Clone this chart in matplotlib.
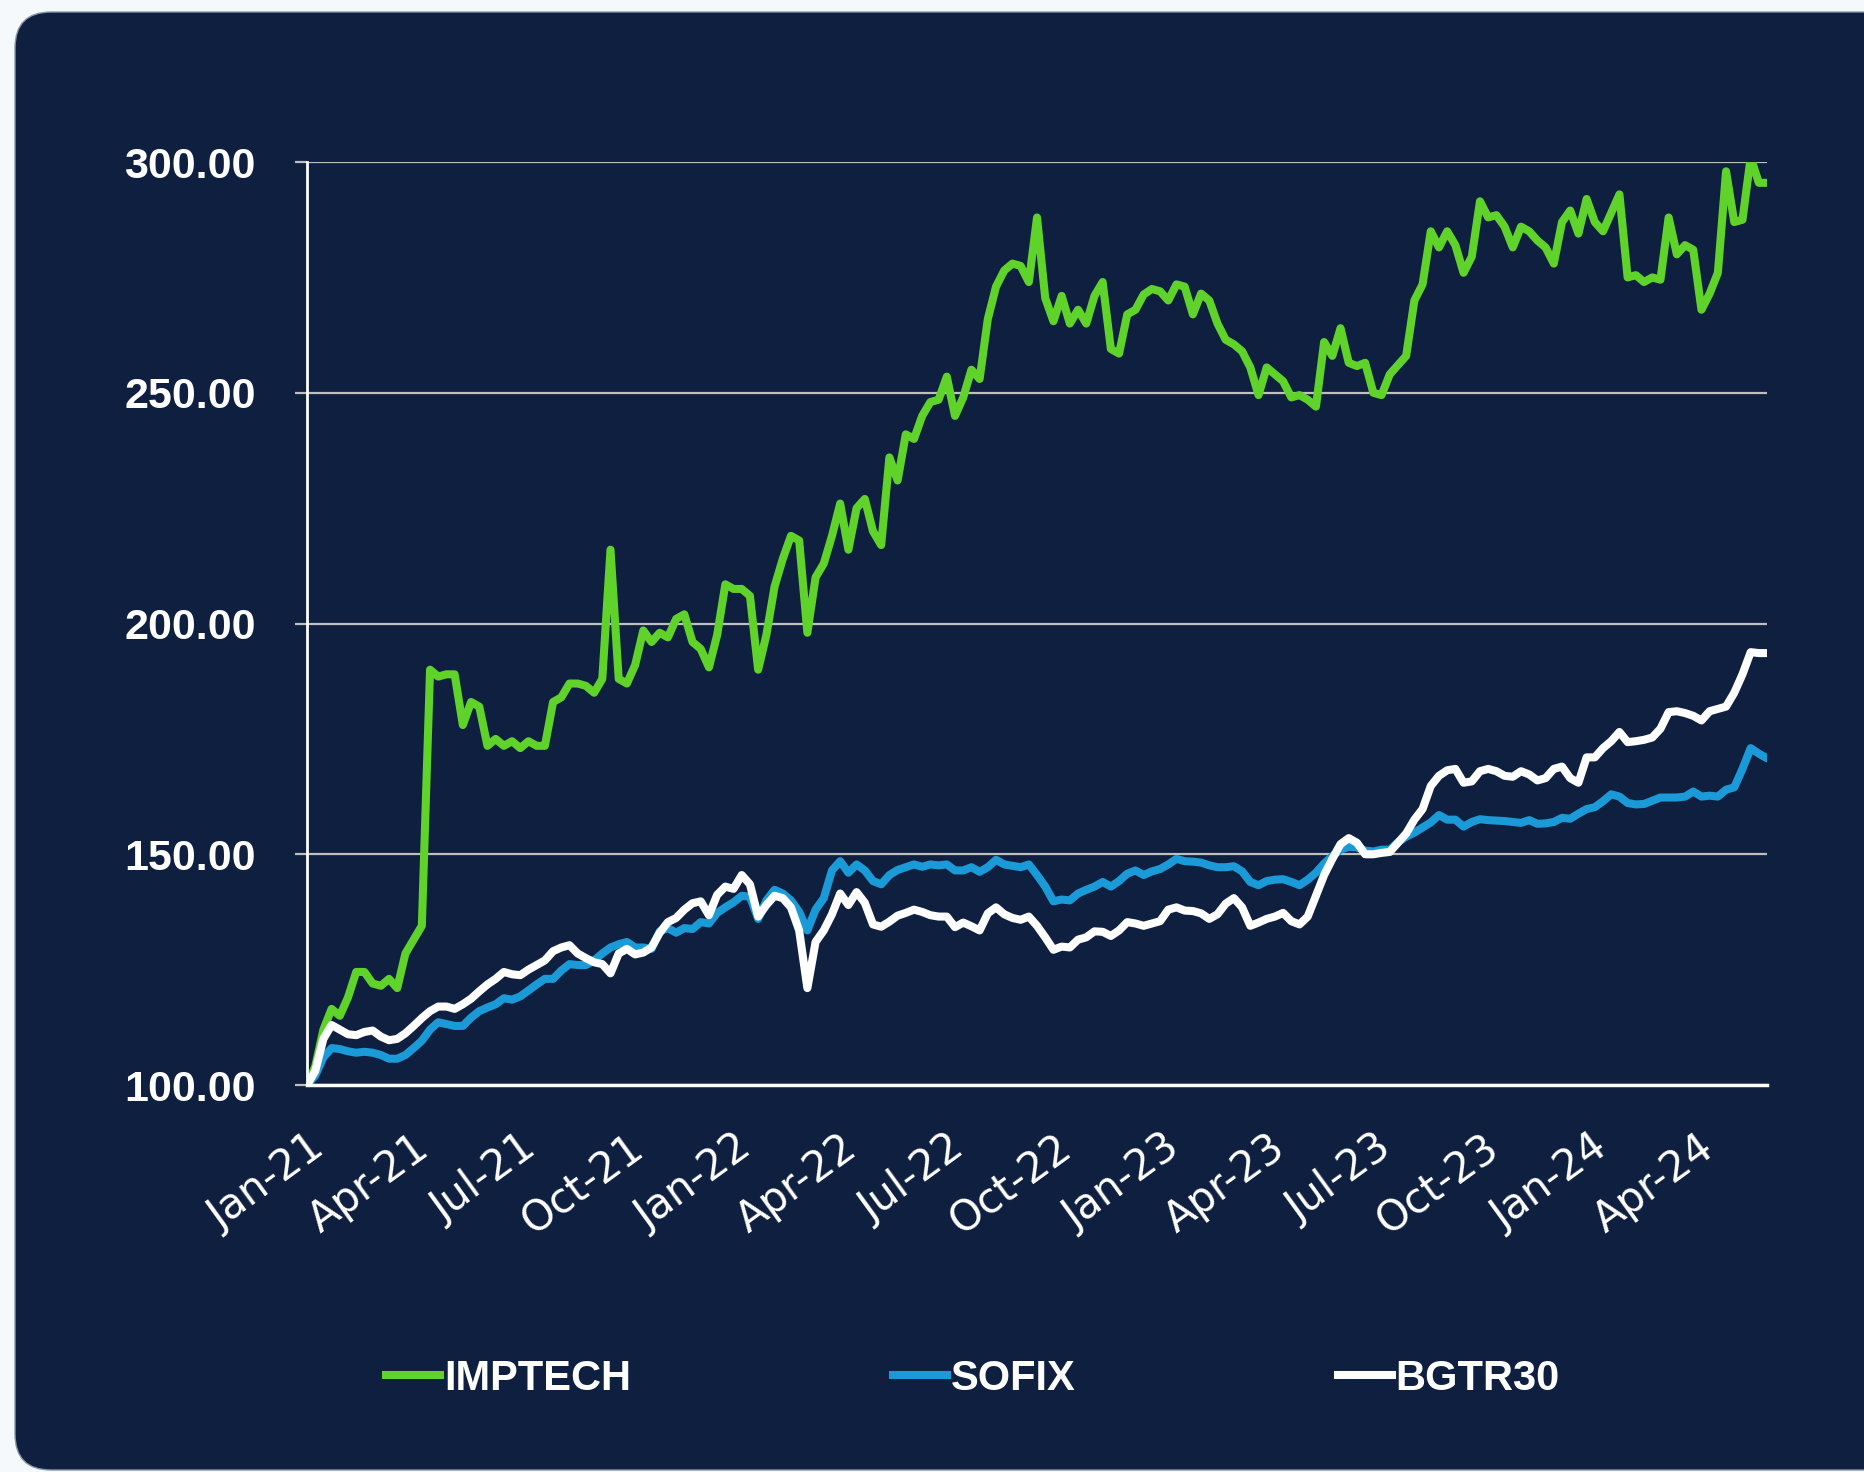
import matplotlib
matplotlib.use("Agg")
import matplotlib.pyplot as plt
import matplotlib.dates as mdates
from matplotlib.patches import FancyBboxPatch
from matplotlib.lines import Line2D
from matplotlib.transforms import IdentityTransform
import pandas as pd

series_names = ["IMPTECH", "SOFIX", "BGTR30"]
series_colors = ["#5fd32a", "#1a9bd7", "#ffffff"]

# weekly levels, all rebased to 100 at the start of 2021
dates = pd.date_range("2021-01-01", periods=179, freq="7D")

imptech = [
    100, 104, 112, 116.5, 115, 119, 124.5, 124.5, 122, 121.5,
    123, 121, 128.5, 131.5, 134.5, 190, 188.5, 189, 189, 178,
    183, 182, 173.5, 175, 173.5, 174.5, 173, 174.5, 173.5, 173.5,
    183, 184, 187, 187, 186.5, 185, 188, 216, 188, 187,
    191, 198.5, 196, 198, 197, 201, 202, 196, 194.5, 190.5,
    197.5, 208.5, 207.5, 207.5, 206, 190, 197.5, 208, 214,
    219, 218, 198, 210, 213, 219, 226, 216, 225, 227,
    220, 217, 236, 231, 241, 240, 245, 248, 248.5, 253.5,
    245, 249, 255, 253, 266, 273, 276.5, 278, 277.5,
    274, 288, 270.5, 265.5, 271, 265, 268, 265, 271, 274,
    259.5, 258.5, 267, 268, 271.3, 272.5, 272, 270, 273.5, 273,
    267, 271.5, 270, 265, 261.5, 260.5, 259, 255.5, 249.5,
    255.5, 254, 252.5, 249, 249.5, 248.5, 247, 261, 258, 264,
    256.5, 255.8, 256.5, 250, 249.5, 254, 256, 258, 270, 273.5,
    285, 281.5, 285, 282, 276, 279.5, 291.5, 288, 288.5,
    286, 281.5, 286, 285, 283, 281.5, 278, 287, 289.5, 284.5,
    292, 287, 285, 289, 293, 275, 275.5, 274, 275, 274.5,
    288, 280, 282, 281, 268, 271.5, 276, 298, 287, 287.5,
    301, 295.5, 295.5,
]

sofix = [
    100, 102, 106, 108, 107.8, 107.3, 107, 107.2, 107, 106.5,
    105.7, 105.7, 106.5, 108, 109.6, 112, 113.6, 113.2, 112.8, 112.8,
    114.6, 116, 116.8, 117.5, 118.8, 118.5, 119.2, 120.5, 121.8, 123,
    123, 124.8, 126.2, 126, 126, 127, 128.5, 129.8, 130.5, 131,
    129.8, 129.8, 129.5, 133.3, 134, 133, 134, 133.8, 135.3, 135,
    137.3, 138.5, 139.6, 141, 140.8, 136, 140, 142.3, 141.5,
    140, 137.5, 133.5, 138, 140.5, 146.5, 148.5, 146, 147.8, 146.5,
    144.2, 143.5, 145.5, 146.6, 147.2, 147.8, 147.3, 147.8, 147.6, 147.8,
    146.5, 146.5, 147.2, 146.2, 147.2, 148.8, 147.8, 147.5, 147.2,
    147.8, 145.5, 143, 139.8, 140.2, 140, 141.5, 142.3, 143, 144,
    143, 144.2, 145.8, 146.5, 145.5, 146.3, 146.8, 147.8, 149, 148.5,
    148.4, 148.2, 147.6, 147.2, 147.2, 147.4, 146.3, 144, 143.3,
    144.2, 144.5, 144.6, 144, 143.3, 144.5, 146, 148, 149.6, 151,
    151.6, 151.5, 150.8, 150.6, 151, 151, 152.6, 153.8, 154.7, 155.8,
    156.9, 158.5, 157.5, 157.5, 156, 157, 157.6, 157.4, 157.3,
    157.2, 157, 156.8, 157.4, 156.6, 156.7, 157, 157.9, 157.7, 158.8,
    159.8, 160.2, 161.5, 163, 162.5, 161.1, 160.8, 160.9, 161.6, 162.3,
    162.3, 162.3, 162.5, 163.6, 162.5, 162.7, 162.5, 164, 164.5, 168.5,
    173, 171.8, 170.8,
]

bgtr30 = [
    100, 103, 110, 113, 112, 111, 110.8, 111.5, 111.8, 110.5,
    109.7, 110, 111.2, 112.8, 114.5, 116, 117, 117, 116.5, 117.5,
    118.7, 120.3, 121.8, 123, 124.5, 124, 123.8, 125, 126, 127,
    129, 129.8, 130.3, 128.5, 127.5, 126.6, 126.2, 124.2, 128.5, 129.5,
    128.3, 128.7, 129.8, 133, 135.3, 136.2, 138, 139.4, 139.8, 136.8,
    141.2, 143, 142.5, 145.5, 143.5, 136.5, 139, 141, 140.5,
    138.5, 133.5, 121, 131, 133.5, 137, 141.5, 139, 141.8, 139.5,
    134.8, 134.3, 135.4, 136.7, 137.3, 138, 137.5, 136.8, 136.5, 136.5,
    134.2, 135.2, 134.4, 133.5, 137.2, 138.5, 137, 136.2, 135.8,
    136.5, 134.5, 132, 129.3, 130, 129.8, 131.5, 132, 133.3, 133.2,
    132.3, 133.5, 135.3, 135, 134.5, 135, 135.5, 138, 138.5, 137.8,
    137.7, 137.2, 136, 137, 139.3, 140.5, 138.5, 134.5, 135.2,
    136, 136.5, 137.3, 135.5, 134.8, 136.5, 141, 145.5, 149, 152.2,
    153.5, 152.5, 150, 150, 150.3, 150.5, 152.5, 154.5, 157.5, 159.8,
    164.8, 167, 168.2, 168.5, 165.5, 165.8, 168, 168.5, 168,
    167, 166.8, 168, 167.3, 166, 166.5, 168.5, 169, 166.5, 165.5,
    171, 171, 173, 174.5, 176.5, 174.3, 174.5, 174.8, 175.3, 177.2,
    180.8, 181, 180.6, 180, 179, 181, 181.5, 182, 185, 189,
    193.8, 193.6, 193.6,
]

y_ticks = [100, 150, 200, 250, 300]
x_ticks = pd.date_range("2021-01-01", "2024-04-01", freq="QS")

card_color = "#0e1f40"
label_font = ["Liberation Sans", "DejaVu Sans"]

fig = plt.figure(figsize=(18.64, 14.72), dpi=100, facecolor="#f5f9fc")

# dark rounded card behind the chart (pixel coordinates)
card = FancyBboxPatch((15, 2), 1900, 1458, boxstyle="round,pad=0,rounding_size=36",
                      transform=IdentityTransform(), facecolor=card_color,
                      edgecolor="#8a96a8", linewidth=1, zorder=-1)
fig.add_artist(card)

ax = fig.add_axes([0.1647, 0.2629, 0.7833, 0.627])
ax.set_facecolor("none")

for vals, name, col in zip([imptech, sofix, bgtr30], series_names, series_colors):
    ax.plot(dates, vals, color=col, lw=5.8, label=name,
            solid_joinstyle="round", solid_capstyle="round")

ax.set_ylim(100, 300)
ax.set_xlim(pd.Timestamp("2021-01-01"), pd.Timestamp("2024-05-31"))

ax.set_yticks(y_ticks)
ax.set_yticklabels([f"{v:.2f}" for v in y_ticks])
ax.yaxis.grid(True, color="#bfbfbf", lw=1.6)
ax.set_axisbelow(True)
ax.tick_params(axis="y", length=9, width=1.6, color="#bfbfbf", pad=28,
               labelsize=31, labelcolor="white")
for lbl in ax.get_yticklabels():
    lbl.set_family(label_font)
    lbl.set_weight("bold")

ax.set_xticks(x_ticks)
ax.xaxis.set_major_formatter(mdates.DateFormatter("%b-%y"))
ax.tick_params(axis="x", length=0, pad=30, labelsize=30, labelcolor="white")
for lbl in ax.get_xticklabels():
    lbl.set_rotation(36)
    lbl.set_ha("right")
    lbl.set_va("top")
    lbl.set_rotation_mode("anchor")

for side in ["top", "right"]:
    ax.spines[side].set_visible(False)
ax.spines["left"].set_color("white")
ax.spines["left"].set_linewidth(2)
ax.spines["bottom"].set_color("white")
ax.spines["bottom"].set_linewidth(2.5)

handles = [Line2D([], [], color=c, lw=5.8) for c in series_colors]
leg = fig.legend(handles, series_names, loc="center", bbox_to_anchor=(0.522, 0.0632),
                 ncol=3, frameon=False, handlelength=1.3, handletextpad=0.08,
                 columnspacing=6.3,
                 prop={"family": label_font, "size": 30, "weight": "bold"})
for t in leg.get_texts():
    t.set_color("white")

fig.savefig("out.png", dpi=100, facecolor=fig.get_facecolor())
